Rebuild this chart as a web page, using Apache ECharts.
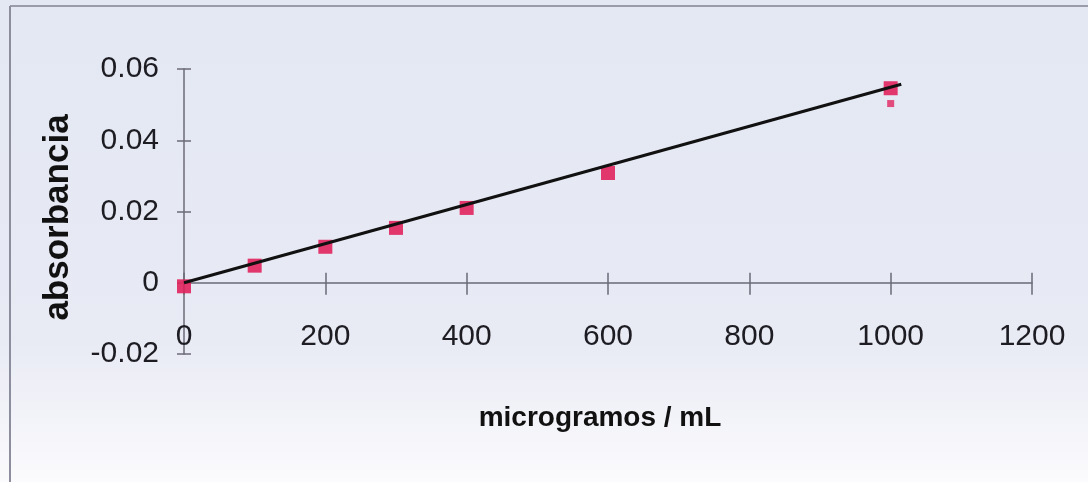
<!DOCTYPE html>
<html>
<head>
<meta charset="utf-8">
<script src="https://cdn.jsdelivr.net/npm/echarts@6/dist/echarts.min.js"></script>
<style>
html,body{margin:0;padding:0;background:#fff;}
#chart{width:1088px;height:482px;}
</style>
</head>
<body>
<div id="chart"></div>
<script>
// Data
const concentrations = [0, 100, 200, 300, 400, 600, 1000];
const absorbances = [-0.001, 0.0048, 0.0101, 0.0154, 0.021, 0.0308, 0.0546];
const extraX = [1000];
const extraY = [0.0503];
const trendX = [0, 1015];
const trendY = [0, 0.0557];
const xTicks = [0, 200, 400, 600, 800, 1000, 1200];
const yTicks = [-0.02, 0, 0.02, 0.04, 0.06];
const xTitle = 'microgramos / mL';
const yTitle = 'absorbancia';

const regular = '"Liberation Sans", Arial, sans-serif';

const chart = echarts.init(document.getElementById('chart'));
const axisColor = '#6b6b78';
const grid = {left: 184, right: 56, top: 69, bottom: 128, containLabel: false, outerBoundsMode: 'none'};

function yFmt(v) {
  const r = Math.round(v * 100) / 100;
  return r === 0 ? '0' : r.toFixed(2);
}

chart.setOption({
  backgroundColor: {
    type: 'linear', x: 0, y: 0, x2: 0, y2: 1,
    colorStops: [
      {offset: 0, color: '#e3e8f3'},
      {offset: 0.7, color: '#e8eaf4'},
      {offset: 1, color: '#fbfbfd'}
    ]
  },
  animation: false,
  graphic: [
    {type: 'line', shape: {x1: 10, y1: 6, x2: 1088, y2: 6}, style: {stroke: '#9a9cab', lineWidth: 2}},
    {type: 'line', shape: {x1: 10, y1: 6, x2: 10, y2: 482}, style: {stroke: '#8c8e9e', lineWidth: 2}}
  ],
  grid: grid,
  xAxis: [{
    type: 'value', min: 0, max: 1200, interval: 200,
    axisLine: {show: true, onZero: true, lineStyle: {color: axisColor, width: 1.5}},
    axisTick: {show: true, inside: false, length: 12, lineStyle: {color: axisColor, width: 1.5}},
    axisLabel: {margin: -32, color: '#1c1c22', fontFamily: regular, fontSize: 30,
      customValues: xTicks, formatter: v => String(v)},
    splitLine: {show: false},
    name: xTitle, nameLocation: 'middle', nameGap: 50,
    nameTextStyle: {fontFamily: regular, fontWeight: 'bold', fontSize: 28, color: '#111', padding: [0, 16, 0, 0]}
  }, {
    type: 'value', min: 0, max: 1200, interval: 200, position: 'bottom',
    axisLine: {show: false, onZero: true},
    axisTick: {show: true, inside: true, length: 10, lineStyle: {color: axisColor, width: 1.5}},
    axisLabel: {show: false}, splitLine: {show: false}
  }],
  yAxis: [{
    type: 'value', min: -0.02, max: 0.06, interval: 0.02,
    axisLine: {show: true, onZero: false, lineStyle: {color: axisColor, width: 1.5}},
    axisTick: {show: true, length: 7, lineStyle: {color: axisColor, width: 1.5}},
    axisLabel: {margin: 25, color: '#1c1c22', fontFamily: regular, fontSize: 30,
      customValues: yTicks, formatter: yFmt},
    splitLine: {show: false},
    name: yTitle, nameLocation: 'middle', nameGap: 108, nameRotate: 90,
    nameTextStyle: {fontFamily: regular, fontWeight: 'bold', fontSize: 35, color: '#111', padding: [0, 12, 0, 0]}
  }, {
    type: 'value', min: -0.02, max: 0.06, interval: 0.02, position: 'left',
    axisLine: {show: false, onZero: false},
    axisTick: {show: true, inside: true, length: 7, lineStyle: {color: axisColor, width: 1.5}},
    axisLabel: {show: false}, splitLine: {show: false}
  }],
  series: [{
    type: 'line', xAxisIndex: 0, yAxisIndex: 0,
    data: trendX.map((x, i) => [x, trendY[i]]),
    symbol: 'none', lineStyle: {color: '#111', width: 3}, z: 3
  }, {
    type: 'scatter', xAxisIndex: 0, yAxisIndex: 0,
    data: concentrations.map((x, i) => [x, absorbances[i]]),
    symbol: 'rect', symbolSize: 14, itemStyle: {color: '#e0245e', opacity: 0.9}, z: 2
  }, {
    type: 'scatter', xAxisIndex: 0, yAxisIndex: 0,
    data: extraX.map((x, i) => [x, extraY[i]]),
    symbol: 'rect', symbolSize: 7, itemStyle: {color: '#e0245e', opacity: 0.8}, z: 2
  }]
});
</script>
</body>
</html>
